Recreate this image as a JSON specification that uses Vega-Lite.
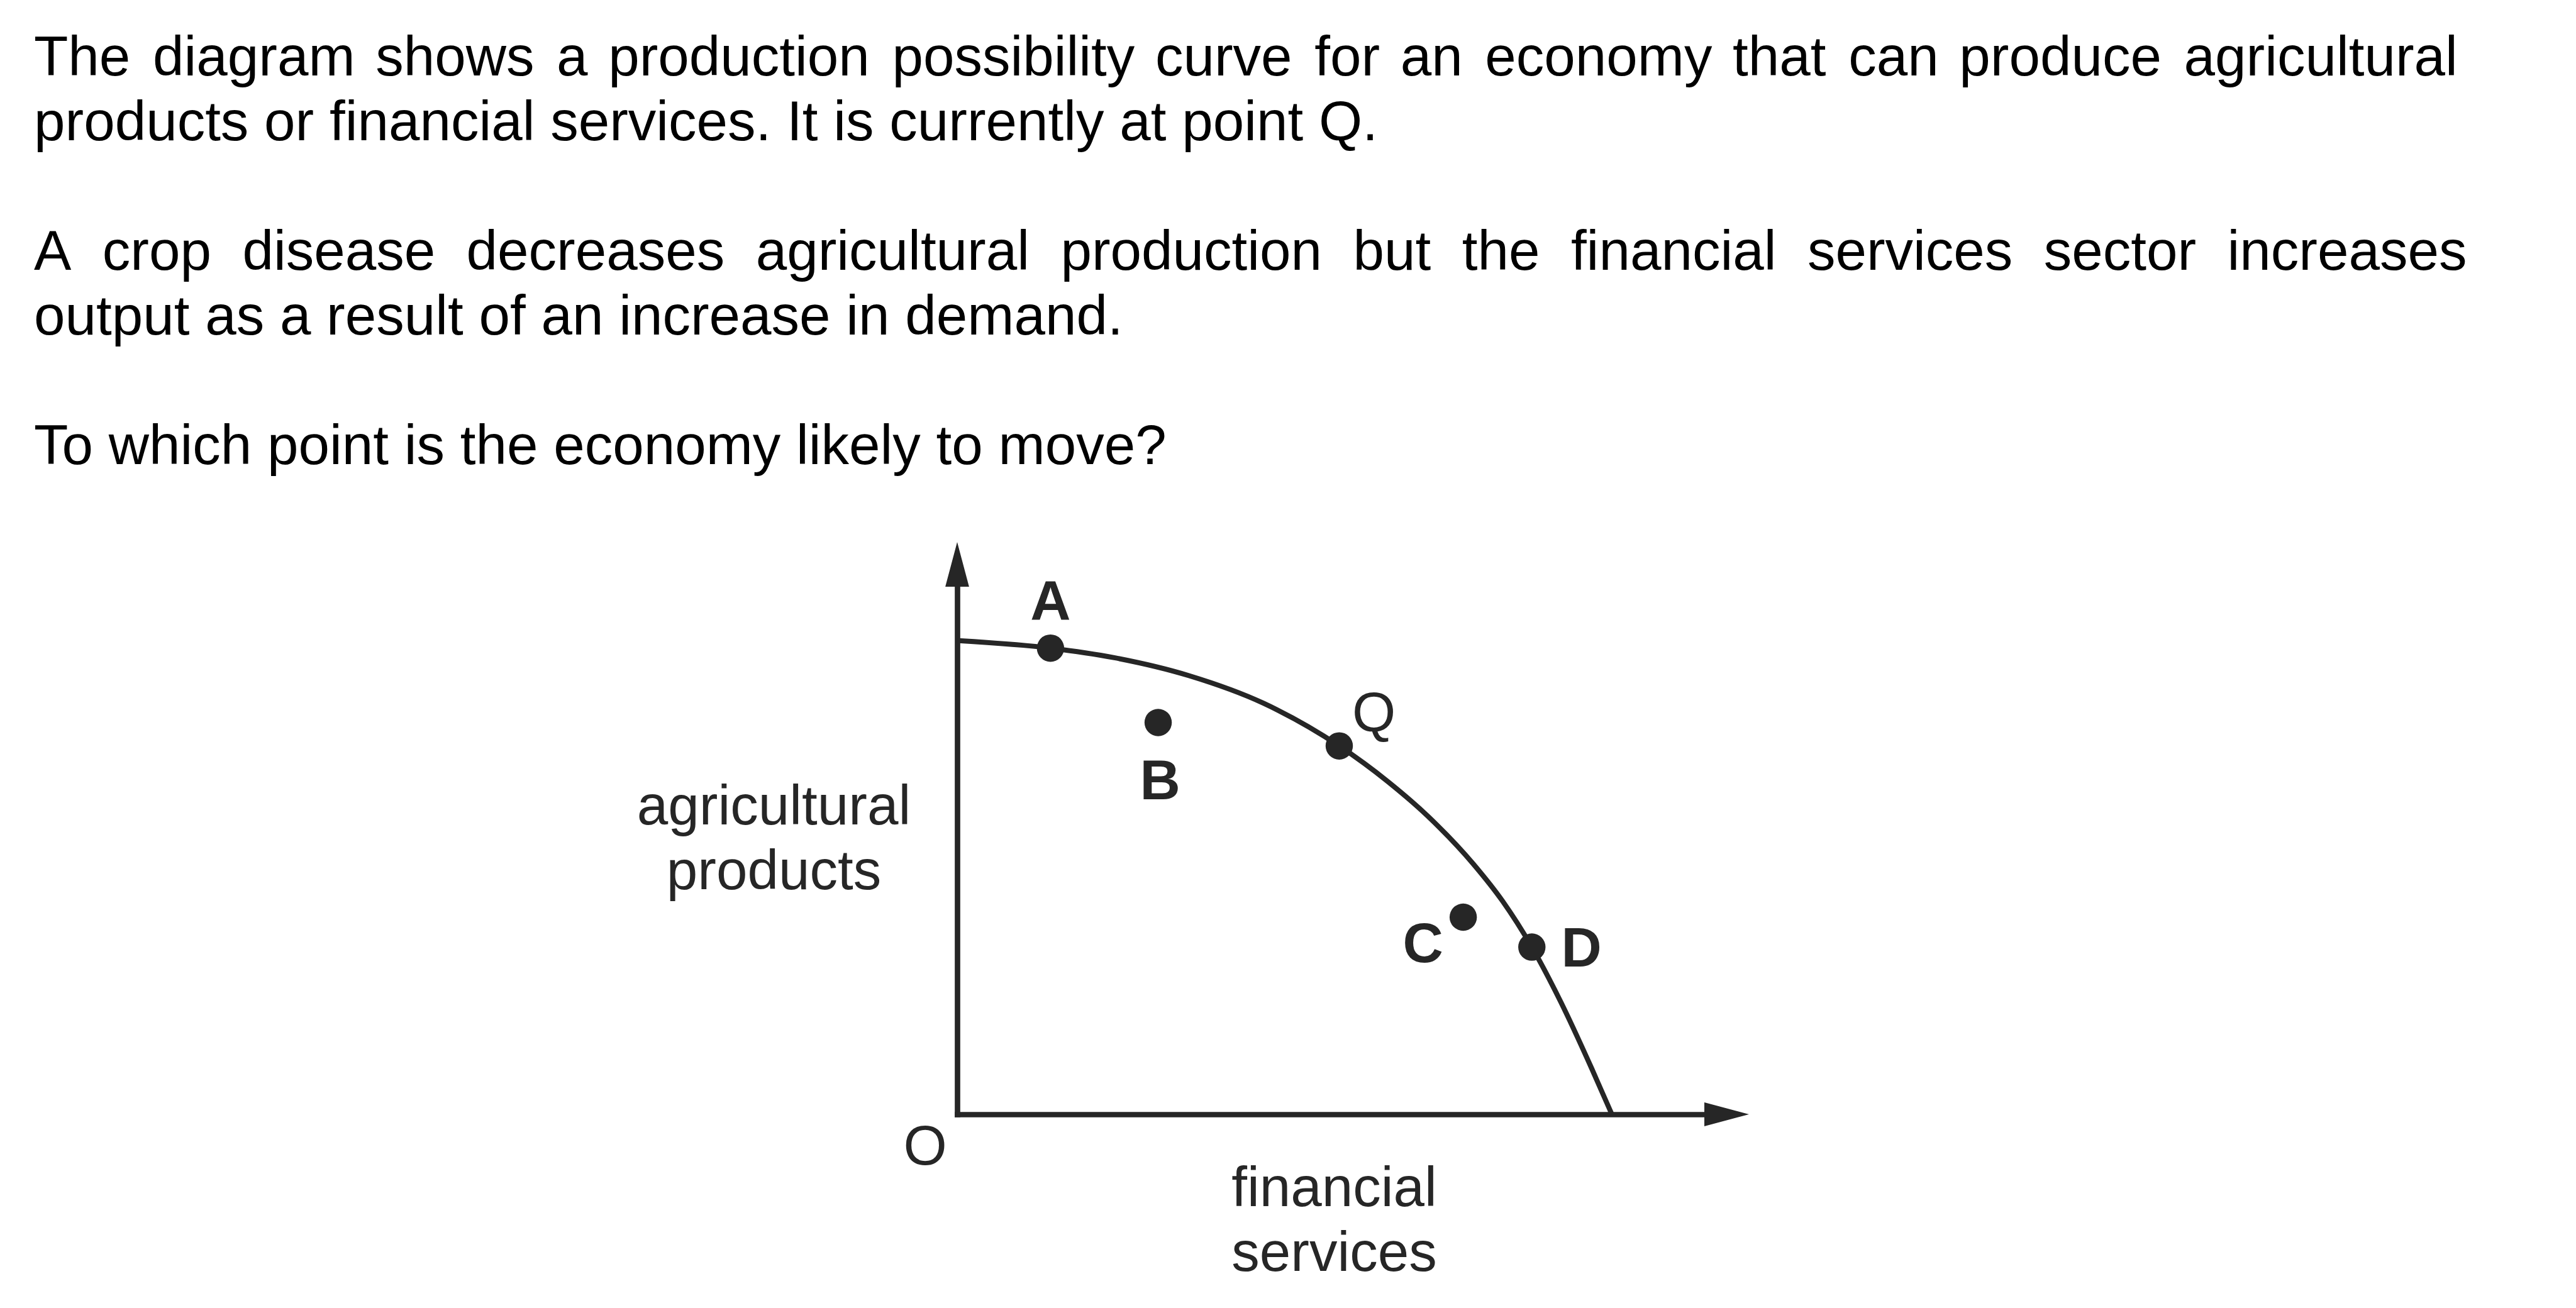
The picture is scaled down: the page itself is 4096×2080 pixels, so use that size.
{
  "$schema": "https://vega.github.io/schema/vega-lite/v6.json",
  "width": 1229,
  "height": 880,
  "autosize": {"type": "none"},
  "padding": {"left": 1522, "top": 892, "right": 1345, "bottom": 308},
  "background": "white",
  "config": {"view": {"stroke": null}, "font": "Liberation Sans"},
  "title": {
    "text": [
      "The\u2009\u2009diagram\u2006\u2009shows\u2009\u2009a\u2006\u2009production\u2009\u2009possibility\u2006\u2009curve\u2009\u2009for\u2006\u2009an\u2009\u2009economy\u2006\u2009that\u2009\u2009can\u2006\u2009produce\u2009\u2009agricultural",
      "products or financial services. It is currently at point Q.",
      "\u200b",
      "A\u00a0\u00a0crop\u00a0\u00a0disease\u00a0\u00a0decreases\u00a0\u00a0agricultural\u00a0\u00a0production\u00a0\u00a0but\u00a0\u00a0the\u00a0\u00a0financial\u00a0\u00a0services\u00a0\u00a0sector\u00a0\u00a0increases",
      "output as a result of an increase in demand.",
      "\u200b",
      "To which point is the economy likely to move?"
    ],
    "anchor": "start",
    "frame": "group",
    "orient": "top",
    "offset": 0,
    "align": "left",
    "baseline": "alphabetic",
    "dx": -1468,
    "dy": -35,
    "font": "Liberation Sans",
    "fontSize": 89,
    "fontWeight": "normal",
    "color": "#000000",
    "lineHeight": 103,
    "limit": 5000
  },
  "datasets": {
    "curve": [
      {"x": 0, "y": 85.6},
      {"x": 12.07, "y": 84.24},
      {"x": 20.32, "y": 82.51},
      {"x": 30.0, "y": 79.26},
      {"x": 39.65, "y": 74.27},
      {"x": 49.43, "y": 66.57},
      {"x": 55.74, "y": 60.1},
      {"x": 60.89, "y": 53.88},
      {"x": 66.79, "y": 45.22},
      {"x": 70.55, "y": 38.55},
      {"x": 74.35, "y": 30.22},
      {"x": 78.06, "y": 20.4},
      {"x": 82.06, "y": 8.38},
      {"x": 84.7, "y": 0}
    ],
    "points": [
      {"x": 12.07, "y": 84.24, "label": "A"},
      {"x": 26.0, "y": 70.8, "label": "B"},
      {"x": 49.43, "y": 66.57, "label": "Q"},
      {"x": 65.47, "y": 35.63, "label": "C"},
      {"x": 74.35, "y": 30.22, "label": "D"}
    ],
    "arrows": [
      {"x": 100, "y": 0, "dir": "right"},
      {"x": 0, "y": 100, "dir": "up"}
    ],
    "origin": [
      {"x": 0, "y": 0, "label": "O"}
    ]
  },
  "encoding": {
    "x": {
      "field": "x",
      "type": "quantitative",
      "scale": {"domain": [0, 100], "nice": false, "zero": false},
      "axis": {
        "title": ["financial", "services"],
        "domain": true,
        "domainColor": "#262626",
        "domainWidth": 8.7,
        "domainCap": "square",
        "ticks": false,
        "labels": false,
        "grid": false,
        "titleFont": "Liberation Sans",
        "titleFontSize": 89,
        "titleFontWeight": "normal",
        "titleColor": "#262626",
        "titleX": 599,
        "titleY": 145,
        "titleAlign": "center",
        "titleBaseline": "alphabetic",
        "titleAngle": 0,
        "titleLineHeight": 103
      }
    },
    "y": {
      "field": "y",
      "type": "quantitative",
      "scale": {"domain": [0, 100], "nice": false, "zero": false},
      "axis": {
        "title": ["agricultural", "products"],
        "domain": true,
        "domainColor": "#262626",
        "domainWidth": 8.7,
        "domainCap": "square",
        "ticks": false,
        "labels": false,
        "grid": false,
        "titleFont": "Liberation Sans",
        "titleFontSize": 89,
        "titleFontWeight": "normal",
        "titleColor": "#262626",
        "titleX": -292,
        "titleY": 418,
        "titleAlign": "center",
        "titleBaseline": "alphabetic",
        "titleAngle": 0,
        "titleLineHeight": 103
      }
    }
  },
  "layer": [
    {
      "data": {"name": "curve"},
      "mark": {"type": "line", "interpolate": "monotone", "strokeWidth": 8, "color": "#262626"}
    },
    {
      "data": {"name": "points"},
      "mark": {"type": "point", "shape": "circle", "filled": true, "size": 1886, "color": "#262626", "opacity": 1, "strokeWidth": 0}
    },
    {
      "data": {"name": "arrows"},
      "mark": {"type": "point", "filled": true, "size": 3600, "color": "#262626", "opacity": 1, "strokeWidth": 0},
      "encoding": {
        "shape": {
          "field": "dir",
          "type": "nominal",
          "scale": {"domain": ["right", "up"], "range": ["M1,0L-1.367,-0.63L-1.367,0.63Z", "M0,-1L-0.63,1.367L0.63,1.367Z"]},
          "legend": null
        }
      }
    },
    {
      "data": {"name": "points"},
      "transform": [{"filter": "datum.label == 'A'"}],
      "mark": {"type": "text", "font": "Liberation Sans", "fontSize": 89, "fontWeight": "bold", "color": "#262626", "align": "center", "baseline": "alphabetic", "dx": 0, "dy": -45},
      "encoding": {"text": {"field": "label", "type": "nominal"}}
    },
    {
      "data": {"name": "points"},
      "transform": [{"filter": "datum.label == 'B'"}],
      "mark": {"type": "text", "font": "Liberation Sans", "fontSize": 89, "fontWeight": "bold", "color": "#262626", "align": "center", "baseline": "alphabetic", "dx": 3, "dy": 122},
      "encoding": {"text": {"field": "label", "type": "nominal"}}
    },
    {
      "data": {"name": "points"},
      "transform": [{"filter": "datum.label == 'Q'"}],
      "mark": {"type": "text", "font": "Liberation Sans", "fontSize": 89, "fontWeight": "normal", "color": "#262626", "align": "center", "baseline": "alphabetic", "dx": 55, "dy": -23},
      "encoding": {"text": {"field": "label", "type": "nominal"}}
    },
    {
      "data": {"name": "points"},
      "transform": [{"filter": "datum.label == 'C'"}],
      "mark": {"type": "text", "font": "Liberation Sans", "fontSize": 89, "fontWeight": "bold", "color": "#262626", "align": "center", "baseline": "alphabetic", "dx": -64, "dy": 72},
      "encoding": {"text": {"field": "label", "type": "nominal"}}
    },
    {
      "data": {"name": "points"},
      "transform": [{"filter": "datum.label == 'D'"}],
      "mark": {"type": "text", "font": "Liberation Sans", "fontSize": 89, "fontWeight": "bold", "color": "#262626", "align": "center", "baseline": "alphabetic", "dx": 79, "dy": 31},
      "encoding": {"text": {"field": "label", "type": "nominal"}}
    },
    {
      "data": {"name": "origin"},
      "mark": {"type": "text", "font": "Liberation Sans", "fontSize": 89, "fontWeight": "normal", "color": "#262626", "align": "center", "baseline": "alphabetic", "dx": -51, "dy": 80},
      "encoding": {"text": {"field": "label", "type": "nominal"}}
    }
  ]
}
